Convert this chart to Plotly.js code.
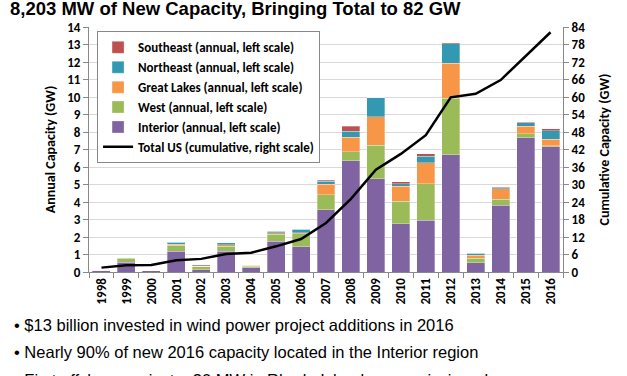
<!DOCTYPE html>
<html>
<head>
<meta charset="utf-8">
<script src="https://cdn.plot.ly/plotly-3.0.1.min.js"></script>
<style>
html,body{margin:0;padding:0;background:#fff;}
#chart{width:627px;height:376px;}
</style>
</head>
<body>
<div id="chart"></div>
<script>
const years = ["1998","1999","2000","2001","2002","2003","2004","2005","2006","2007","2008","2009","2010","2011","2012","2013","2014","2015","2016"];
const interior   = [0.09,0.55,0.06,1.18,0.13,1.20,0.23,1.77,1.43,3.56,6.36,5.33,2.76,2.95,6.70,0.53,3.81,7.68,7.16];
const west       = [0.00,0.23,0.00,0.34,0.16,0.27,0.11,0.38,0.76,0.86,0.50,1.91,1.28,2.10,3.24,0.25,0.34,0.21,0.06];
const greatLakes = [0.00,0.03,0.00,0.08,0.04,0.09,0.04,0.10,0.05,0.59,0.84,1.62,0.87,1.18,2.00,0.17,0.61,0.43,0.38];
const northeast  = [0.00,0.00,0.01,0.10,0.00,0.12,0.00,0.09,0.20,0.19,0.34,1.10,0.14,0.38,1.11,0.12,0.06,0.21,0.48];
const southeast  = [0.03,0.00,0.00,0.00,0.07,0.00,0.04,0.00,0.00,0.05,0.28,0.00,0.11,0.15,0.05,0.00,0.03,0.04,0.10];
const cumulative = [1.5,2.3,2.4,4.0,4.5,6.2,6.6,8.8,11.3,16.8,25.1,35.1,40.5,46.9,59.9,61.1,65.8,74.0,82.2];

const titleText = "8,203 MW of New Capacity, Bringing Total to 82 GW";
const bullets = [
  "• $13 billion invested in wind power project additions in 2016",
  "• Nearly 90% of new 2016 capacity located in the Interior region",
  "• First offshore project – 30 MW in Rhode Island – commissioned"
];

const sans = "'Liberation Sans', Arial, sans-serif";
const cal = "Carlito, Calibri, Lato, 'Open Sans', sans-serif";

function barTrace(name, vals, color, rank){
  return {type:'bar', name:name, x:years, y:vals, marker:{color:color, line:{color:'rgba(255,255,255,0.6)', width:0.5}}, legendrank:rank, yaxis:'y'};
}
const traces = [
  barTrace('Interior (annual, left scale)', interior, '#8064A2', 5),
  barTrace('West (annual, left scale)', west, '#9BBB59', 4),
  barTrace('Great Lakes (annual, left scale)', greatLakes, '#F79646', 3),
  barTrace('Northeast (annual, left scale)', northeast, '#3399B3', 2),
  barTrace('Southeast (annual, left scale)', southeast, '#C0504D', 1),
  {type:'scatter', mode:'lines', name:'Total US (cumulative, right scale)', x:years, y:cumulative, yaxis:'y2', line:{color:'#000', width:2.5}, legendrank:6}
];

const annotations = bullets.map((t,i)=>({
  text:t, xref:'paper', yref:'paper', x:-0.162, y:[-0.218,-0.328,-0.44][i],
  xanchor:'left', yanchor:'middle', showarrow:false,
  font:{family:sans, size:16.5, color:'#000'}
}));

const layout = {
  width:627, height:376,
  margin:{l:89, r:64, t:27, b:104},
  paper_bgcolor:'#fff', plot_bgcolor:'#fff',
  barmode:'stack', bargap:0.28,
  title:{text:titleText, x:10/627, xref:'container', xanchor:'left', y:0.994, yref:'container', yanchor:'top', pad:{t:0},
    font:{family:sans, size:18.5, weight:'bold', color:'#000'}},
  xaxis:{type:'category', tickangle:-90, showline:true, linecolor:'#888', ticks:'outside', tickson:'boundaries', ticklen:5, tickcolor:'#888',
    tickfont:{family:cal, size:13, weight:'bold', color:'#000'}, showgrid:false},
  yaxis:{range:[0,14], dtick:1, showline:true, linecolor:'#888', ticks:'outside', ticklen:5, tickcolor:'#888',
    gridcolor:'#d9d9d9', gridwidth:1, zeroline:false,
    tickfont:{family:cal, size:13, weight:'bold', color:'#000'},
    title:{text:'Annual Capacity (GW)', font:{family:cal, size:14, weight:'bold', color:'#000'}, standoff:8}},
  yaxis2:{range:[0,84], dtick:6, overlaying:'y', side:'right', showline:true, linecolor:'#888', ticks:'outside', ticklen:5, tickcolor:'#888',
    showgrid:false, zeroline:false,
    tickfont:{family:cal, size:13, weight:'bold', color:'#000'},
    title:{text:'Cumulative Capacity (GW)', font:{family:cal, size:14, weight:'bold', color:'#000'}, standoff:15}},
  legend:{x:0.017, y:0.982, xanchor:'left', yanchor:'top', traceorder:'normal', bgcolor:'#fff', bordercolor:'#888', borderwidth:1,
    font:{family:cal, size:13, weight:'bold', color:'#000'}, tracegroupgap:0},
  annotations:annotations,
  showlegend:true
};

Plotly.newPlot('chart', traces, layout, {displayModeBar:false, staticPlot:true});
</script>
</body>
</html>
